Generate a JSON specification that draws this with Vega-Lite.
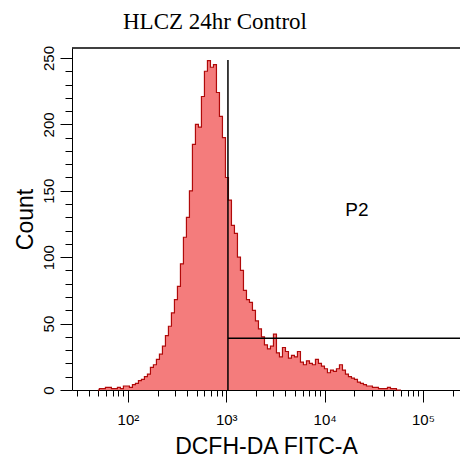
{
  "$schema": "https://vega.github.io/schema/vega-lite/v6.json",
  "width": 388,
  "height": 342,
  "autosize": {"type": "none"},
  "padding": {"left": 72, "top": 48, "right": 0, "bottom": 74},
  "background": "white",
  "view": {"stroke": null},
  "title": {"text": "HLCZ 24hr Control", "font": "Liberation Serif", "fontSize": 23, "fontWeight": "normal", "color": "black", "anchor": "middle", "dx": -51, "offset": 11},
  "datasets": {
    "hist": [
      {"v": 49.5, "c": 0}, {"v": 53.1, "c": 1}, {"v": 57, "c": 1}, {"v": 61.2, "c": 2}, {"v": 65.6, "c": 2}, {"v": 70.4, "c": 1}, {"v": 75.5, "c": 1}, {"v": 81, "c": 2}, {"v": 86.9, "c": 1}, {"v": 93.2, "c": 3},
      {"v": 100, "c": 3}, {"v": 107.3, "c": 2}, {"v": 115.1, "c": 4}, {"v": 123.5, "c": 5}, {"v": 132.5, "c": 7}, {"v": 142.1, "c": 8}, {"v": 152.4, "c": 10}, {"v": 163.6, "c": 12}, {"v": 175.4, "c": 17}, {"v": 188.2, "c": 19},
      {"v": 201.9, "c": 23}, {"v": 216.6, "c": 27}, {"v": 232.4, "c": 33}, {"v": 249.3, "c": 41}, {"v": 267.4, "c": 48}, {"v": 286.9, "c": 58}, {"v": 307.8, "c": 68}, {"v": 330.2, "c": 78}, {"v": 354.2, "c": 95}, {"v": 379.9, "c": 115},
      {"v": 407.6, "c": 130}, {"v": 437.2, "c": 150}, {"v": 469.1, "c": 185}, {"v": 503.2, "c": 200}, {"v": 539.9, "c": 198}, {"v": 579.2, "c": 221}, {"v": 621.3, "c": 240}, {"v": 666.6, "c": 248}, {"v": 715.1, "c": 243}, {"v": 767.2, "c": 245},
      {"v": 823, "c": 224}, {"v": 882.9, "c": 206}, {"v": 947.2, "c": 190}, {"v": 1016, "c": 160}, {"v": 1090, "c": 143}, {"v": 1169, "c": 124}, {"v": 1254, "c": 118}, {"v": 1346, "c": 100}, {"v": 1444, "c": 90}, {"v": 1549, "c": 75},
      {"v": 1662, "c": 68}, {"v": 1782, "c": 66}, {"v": 1912, "c": 60}, {"v": 2051, "c": 52}, {"v": 2200, "c": 46}, {"v": 2361, "c": 40}, {"v": 2532, "c": 34}, {"v": 2717, "c": 31}, {"v": 2914, "c": 33}, {"v": 3126, "c": 42},
      {"v": 3354, "c": 28}, {"v": 3598, "c": 25}, {"v": 3860, "c": 32}, {"v": 4140, "c": 29}, {"v": 4442, "c": 24}, {"v": 4765, "c": 26}, {"v": 5112, "c": 25}, {"v": 5483, "c": 29}, {"v": 5882, "c": 21}, {"v": 6310, "c": 19},
      {"v": 6770, "c": 22}, {"v": 7262, "c": 20}, {"v": 7791, "c": 19}, {"v": 8358, "c": 23}, {"v": 8966, "c": 20}, {"v": 9618, "c": 18}, {"v": 10318, "c": 16}, {"v": 11068, "c": 13}, {"v": 11874, "c": 15}, {"v": 12738, "c": 14},
      {"v": 13665, "c": 16}, {"v": 14659, "c": 19}, {"v": 15726, "c": 15}, {"v": 16870, "c": 12}, {"v": 18098, "c": 10}, {"v": 19415, "c": 9}, {"v": 20828, "c": 8}, {"v": 22344, "c": 6}, {"v": 23970, "c": 5}, {"v": 25714, "c": 4},
      {"v": 27585, "c": 3}, {"v": 29592, "c": 3}, {"v": 31747, "c": 2}, {"v": 34057, "c": 2}, {"v": 36535, "c": 1}, {"v": 39193, "c": 1}, {"v": 42045, "c": 1}, {"v": 45104, "c": 2}, {"v": 48386, "c": 1}, {"v": 51907, "c": 1},
      {"v": 55684, "c": 0}, {"v": 59736, "c": 0}
    ],
    "gateV": [{"v": 1040, "c": 0, "c2": 248.5}],
    "gateH": [{"v": 1040, "v2": 238000, "c": 39}],
    "label": [{"v": 21300, "c": 135.5, "t": "P2"}],
    "frame": [{"v": 27, "v2": 238000, "c": 257.5}]
  },
  "encoding": {
    "x": {
      "field": "v", "type": "quantitative",
      "scale": {"type": "log", "domain": [27, 238000], "nice": false},
      "axis": {
        "values": [30, 40, 50, 60, 70, 80, 90, 100, 200, 300, 400, 500, 600, 700, 800, 900, 1000, 2000, 3000, 4000, 5000, 6000, 7000, 8000, 9000, 10000, 20000, 30000, 40000, 50000, 60000, 70000, 80000, 90000, 100000, 200000],
        "labelExpr": "datum.value == 100 ? '10²' : datum.value == 1000 ? '10³' : datum.value == 10000 ? '10⁴' : datum.value == 100000 ? '10⁵' : ''",
        "tickSize": {"condition": {"test": "datum.value == 100 || datum.value == 1000 || datum.value == 10000 || datum.value == 100000", "value": 12}, "value": 6},
        "grid": false, "labelOverlap": false, "labelFlush": false,
        "labelFont": "Liberation Sans", "labelFontSize": 15, "labelColor": "black", "labelPadding": 10,
        "domainColor": "black", "tickColor": "black", "domainWidth": 1, "tickWidth": 1,
        "title": "DCFH-DA FITC-A", "titleFont": "Liberation Sans", "titleFontSize": 23, "titleFontWeight": "normal", "titleColor": "black", "titlePadding": 8
      }
    },
    "y": {
      "field": "c", "type": "quantitative",
      "scale": {"domain": [0, 257.5], "nice": false, "zero": false},
      "axis": {
        "values": [0, 10, 20, 30, 40, 50, 60, 70, 80, 90, 100, 110, 120, 130, 140, 150, 160, 170, 180, 190, 200, 210, 220, 230, 240, 250],
        "labelExpr": "datum.value % 50 == 0 ? datum.label : ''",
        "tickSize": {"condition": {"test": "datum.value % 50 == 0", "value": 12}, "value": 7},
        "grid": false, "labelOverlap": false, "labelFlush": false,
        "labelAngle": 270,
        "labelFont": "Liberation Sans", "labelFontSize": 15, "labelColor": "black", "labelPadding": 4,
        "domainColor": "black", "tickColor": "black", "domainWidth": 1, "tickWidth": 1,
        "title": "Count", "titleFont": "Liberation Sans", "titleFontSize": 23, "titleFontWeight": "normal", "titleColor": "black", "titlePadding": 4
      }
    }
  },
  "layer": [
    {
      "data": {"name": "hist"},
      "mark": {"type": "area", "interpolate": "step", "color": "#F47C7C", "opacity": 1, "line": {"color": "#B00A0A", "strokeWidth": 1.2}}
    },
    {
      "data": {"name": "gateV"},
      "mark": {"type": "rule", "color": "black", "strokeWidth": 1.5},
      "encoding": {"y2": {"field": "c2"}}
    },
    {
      "data": {"name": "gateH"},
      "mark": {"type": "rule", "color": "black", "strokeWidth": 1.5},
      "encoding": {"x2": {"field": "v2"}}
    },
    {
      "data": {"name": "label"},
      "mark": {"type": "text", "font": "Liberation Sans", "fontSize": 19, "color": "black", "align": "center", "baseline": "middle"},
      "encoding": {"text": {"field": "t"}}
    },
    {
      "data": {"name": "frame"},
      "mark": {"type": "rule", "color": "black", "strokeWidth": 1.5},
      "encoding": {"x2": {"field": "v2"}}
    }
  ]
}
